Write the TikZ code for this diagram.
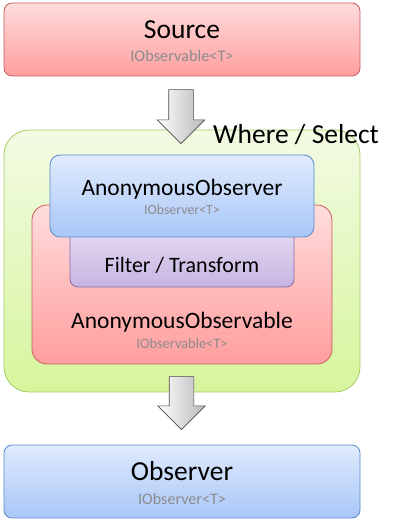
\documentclass[tikz,border=0pt]{standalone}
\usepackage{fontspec}
\setmainfont{Carlito}
\usetikzlibrary{shapes.arrows}

\definecolor{redtop}{HTML}{FFDCDC}
\definecolor{redbot}{HTML}{FF9E9E}
\definecolor{redline}{HTML}{CC5C5C}
\definecolor{bluetop}{HTML}{E0EBFD}
\definecolor{bluebot}{HTML}{A8C6F7}
\definecolor{blueline}{HTML}{5B8BCF}
\definecolor{greentop}{HTML}{F3FBE4}
\definecolor{greenbot}{HTML}{D6F59C}
\definecolor{greenline}{HTML}{A3CC62}
\definecolor{purptop}{HTML}{E8DEF3}
\definecolor{purpbot}{HTML}{C7B5E1}
\definecolor{purpline}{HTML}{8468A8}
\definecolor{subgray}{HTML}{8C8C8C}

\begin{document}
\begin{tikzpicture}
[	x=1pt,y=1pt,
	box/.style={rectangle,draw,line width=0.8,inner sep=0},
	redbox/.style={box,draw=redline,top color=redtop,bottom color=redbot},
	bluebox/.style={box,draw=blueline,top color=bluetop,bottom color=bluebot},
	big/.style={anchor=base,inner sep=0,font=\fontsize{27.5}{30}\selectfont},
	mid/.style={anchor=base,inner sep=0,font=\fontsize{23.5}{26}\selectfont},
	sub/.style={anchor=base,inner sep=0,text=subgray},
	blockarrow/.style={single arrow,draw=black!70,line width=0.6,rotate=-90,
		left color=white,right color=black!28,inner xsep=0,inner ysep=12,
		minimum width=47,minimum height=54,single arrow head extend=11.5}
]
\useasboundingbox (0,0) rectangle (400,525);

% source
\node[redbox,rounded corners=8,minimum width=356,minimum height=73] (src) at (182,485.5) {};
\node[big] (srct) at (182,486) {Source};
\node[sub,font=\fontsize{16.3}{18}\selectfont] (srcs) at (182,463) {IObservable<T>};

% where / select operator
\node[box,draw=greenline,top color=greentop,bottom color=greenbot,rounded corners=25,
	minimum width=356,minimum height=262] (op) at (182,264) {};
\node[big,anchor=base west] (opt) at (213,381) {Where / Select};

\node[redbox,rounded corners=15,minimum width=300,minimum height=159] (aobs) at (182,240.5) {};
\node[mid] (aobst) at (182,196) {AnonymousObservable};
\node[sub,font=\fontsize{14.4}{16}\selectfont] (aobss) at (182,176.7) {IObservable<T>};

\node[box,draw=purpline,top color=purptop,bottom color=purpbot,rounded corners=8,
	minimum width=224,minimum height=65] (ft) at (182,270.5) {};
\node[mid,font=\fontsize{22}{24}\selectfont] (ftt) at (182,252.3) {Filter / Transform};

\node[bluebox,rounded corners=10,minimum width=264,minimum height=82] (aob) at (182,329) {};
\node[mid] (aobt) at (182,329) {AnonymousObserver};
\node[sub,font=\fontsize{13.9}{16}\selectfont] (aobs2) at (182,310.7) {IObserver<T>};

% observer
\node[bluebox,rounded corners=8,minimum width=356,minimum height=73] (obs) at (182,43.5) {};
\node[big] (obst) at (182,44) {Observer};
\node[sub,font=\fontsize{16.1}{18}\selectfont] (obss) at (182,20.7) {IObserver<T>};

% block arrows
\node[blockarrow] (a1) at (181,414.5) {};
\node[blockarrow,minimum height=53] (a2) at (181.5,128) {};

\end{tikzpicture}
\end{document}
